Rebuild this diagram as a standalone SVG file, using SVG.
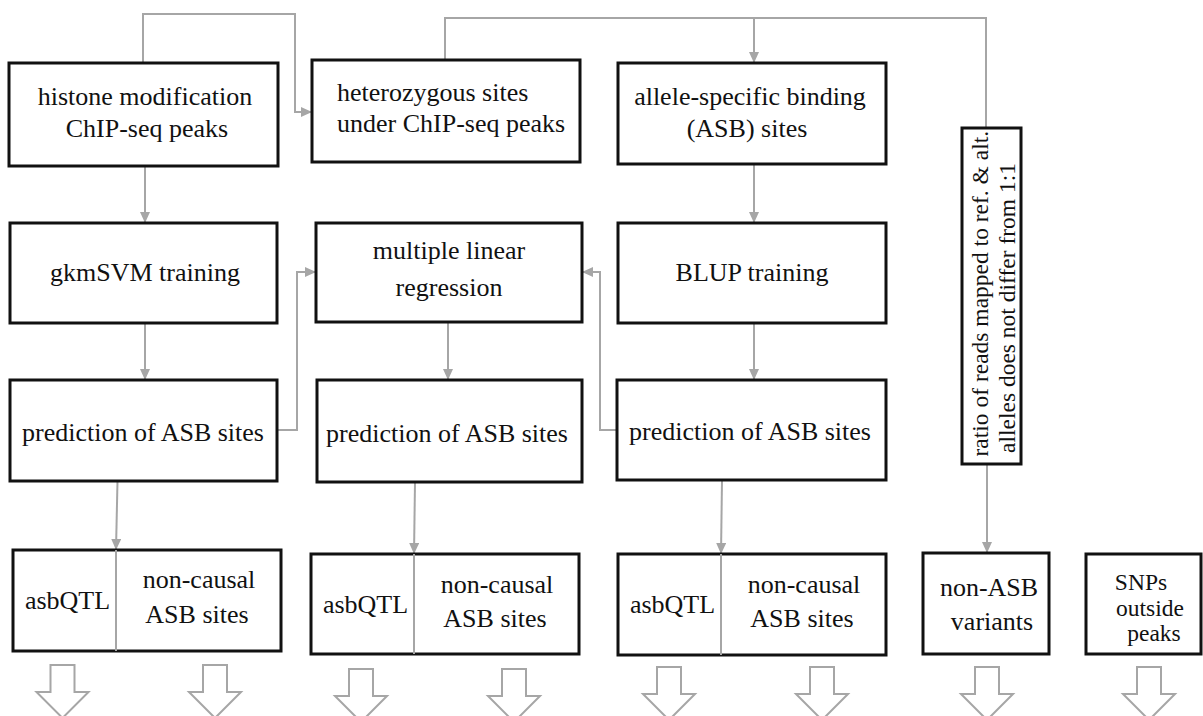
<svg xmlns="http://www.w3.org/2000/svg" width="1203" height="716" viewBox="0 0 1203 716">
<style>
.box{fill:#fff;stroke:#111;stroke-width:3}
.t{font-family:'Liberation Serif','Times New Roman',serif;font-size:26px;fill:#111;text-anchor:middle}
.ts{text-anchor:start}
.c{fill:none;stroke:#a6a6a6;stroke-width:2}
.ca{fill:none;stroke:#a6a6a6;stroke-width:2;marker-end:url(#ah)}
.div{stroke:#a6a6a6;stroke-width:2}
.blk{fill:#fff;stroke:#a6a6a6;stroke-width:2}
</style>
<defs>
<marker id="ah" markerUnits="userSpaceOnUse" markerWidth="12" markerHeight="10" refX="11" refY="5" orient="auto">
<path d="M0,0 L11,5 L0,10 z" fill="#a6a6a6"/>
</marker>
<path id="blk" d="M-12,0 L12,0 L12,27 L26,27 L0,53 L-26,27 L-12,27 z"/>
</defs>
<rect width="1203" height="716" fill="#fff"/>

<g id="connectors">
<polyline class="ca" points="143,63 143,14 295,14 295,112 312,112"/>
<polyline class="c" points="445,60 445,18 986,18 986,128"/>
<line class="ca" x1="754" y1="18" x2="754" y2="63"/>
<line class="ca" x1="145" y1="166" x2="145" y2="223"/>
<line class="ca" x1="754" y1="164" x2="754" y2="223"/>
<line class="ca" x1="145" y1="323" x2="145" y2="380"/>
<line class="ca" x1="448" y1="322" x2="448" y2="380"/>
<line class="ca" x1="754" y1="323" x2="754" y2="380"/>
<polyline class="ca" points="277,430 297,430 297,272 316,272"/>
<polyline class="ca" points="617,430 600,430 600,272 582,272"/>
<line class="ca" x1="117.5" y1="481" x2="116" y2="550"/>
<line class="ca" x1="415" y1="482" x2="414" y2="554"/>
<line class="ca" x1="722" y1="480" x2="721" y2="554"/>
<line class="ca" x1="987" y1="464" x2="987" y2="553"/>
</g>

<g id="histone">
<rect class="box" x="9" y="63" width="269" height="103"/>
<text class="t" x="145" y="105">histone modification</text>
<text class="t" x="147" y="137">ChIP-seq peaks</text>
</g>
<g id="heterozygous">
<rect class="box" x="312" y="60" width="268" height="102"/>
<text class="t ts" x="337" y="101">heterozygous sites</text>
<text class="t ts" x="337" y="132">under ChIP-seq peaks</text>
</g>
<g id="asb">
<rect class="box" x="618" y="63" width="268" height="101"/>
<text class="t" x="750" y="105">allele-specific binding</text>
<text class="t" x="747" y="137">(ASB) sites</text>
</g>
<g id="gkmsvm">
<rect class="box" x="10" y="223" width="267" height="100"/>
<text class="t" x="145" y="281">gkmSVM training</text>
</g>
<g id="mlr">
<rect class="box" x="316" y="223" width="266" height="99"/>
<text class="t" x="449" y="259">multiple linear</text>
<text class="t" x="449" y="296">regression</text>
</g>
<g id="blup">
<rect class="box" x="618" y="223" width="268" height="100"/>
<text class="t" x="752" y="281">BLUP training</text>
</g>
<g id="pred1">
<rect class="box" x="10" y="380" width="267" height="101"/>
<text class="t" x="143" y="441">prediction of ASB sites</text>
</g>
<g id="pred2">
<rect class="box" x="317" y="380" width="265" height="102"/>
<text class="t" x="447" y="442">prediction of ASB sites</text>
</g>
<g id="pred3">
<rect class="box" x="617" y="380" width="269" height="100"/>
<text class="t" x="750" y="440">prediction of ASB sites</text>
</g>
<g id="ratio">
<rect class="box" x="962" y="128" width="59" height="336"/>
<text class="t ts" style="font-size:23.5px" transform="translate(988,456.5) rotate(-90)">ratio of reads mapped to ref. &amp; alt.</text>
<text class="t ts" style="font-size:23.5px" transform="translate(1015,453) rotate(-90)">alleles does not differ from 1:1</text>
</g>
<g id="result1">
<rect class="box" x="13" y="550" width="268" height="101"/>
<line class="div" x1="116" y1="550" x2="116" y2="651"/>
<text class="t" x="67.5" y="609">asbQTL</text>
<text class="t" x="199" y="588">non-causal</text>
<text class="t" x="197" y="623">ASB sites</text>
</g>
<g id="result2">
<rect class="box" x="311" y="554" width="268" height="100"/>
<line class="div" x1="414" y1="554" x2="414" y2="654"/>
<text class="t" x="365.5" y="613">asbQTL</text>
<text class="t" x="497" y="593">non-causal</text>
<text class="t" x="495" y="627">ASB sites</text>
</g>
<g id="result3">
<rect class="box" x="618" y="554" width="268" height="101"/>
<line class="div" x1="721" y1="554" x2="721" y2="655"/>
<text class="t" x="672.5" y="613">asbQTL</text>
<text class="t" x="804" y="593">non-causal</text>
<text class="t" x="802" y="627">ASB sites</text>
</g>
<g id="nonasb">
<rect class="box" x="923" y="553" width="126" height="101"/>
<text class="t" x="989" y="596">non-ASB</text>
<text class="t" x="992" y="630">variants</text>
</g>
<g id="snps">
<rect class="box" x="1086" y="554" width="115" height="100"/>
<text class="t" style="font-size:23.5px" x="1141" y="590">SNPs</text>
<text class="t" style="font-size:23.5px" x="1150" y="615.5">outside</text>
<text class="t" style="font-size:23.5px" x="1154" y="641">peaks</text>
</g>

<g id="outputs">
<use href="#blk" class="blk" transform="translate(62.5,665)"/>
<use href="#blk" class="blk" transform="translate(215,665)"/>
<use href="#blk" class="blk" transform="translate(361,669)"/>
<use href="#blk" class="blk" transform="translate(514,669)"/>
<use href="#blk" class="blk" transform="translate(669,667)"/>
<use href="#blk" class="blk" transform="translate(822,667)"/>
<use href="#blk" class="blk" transform="translate(987,667)"/>
<use href="#blk" class="blk" transform="translate(1149,667)"/>
</g>
</svg>
